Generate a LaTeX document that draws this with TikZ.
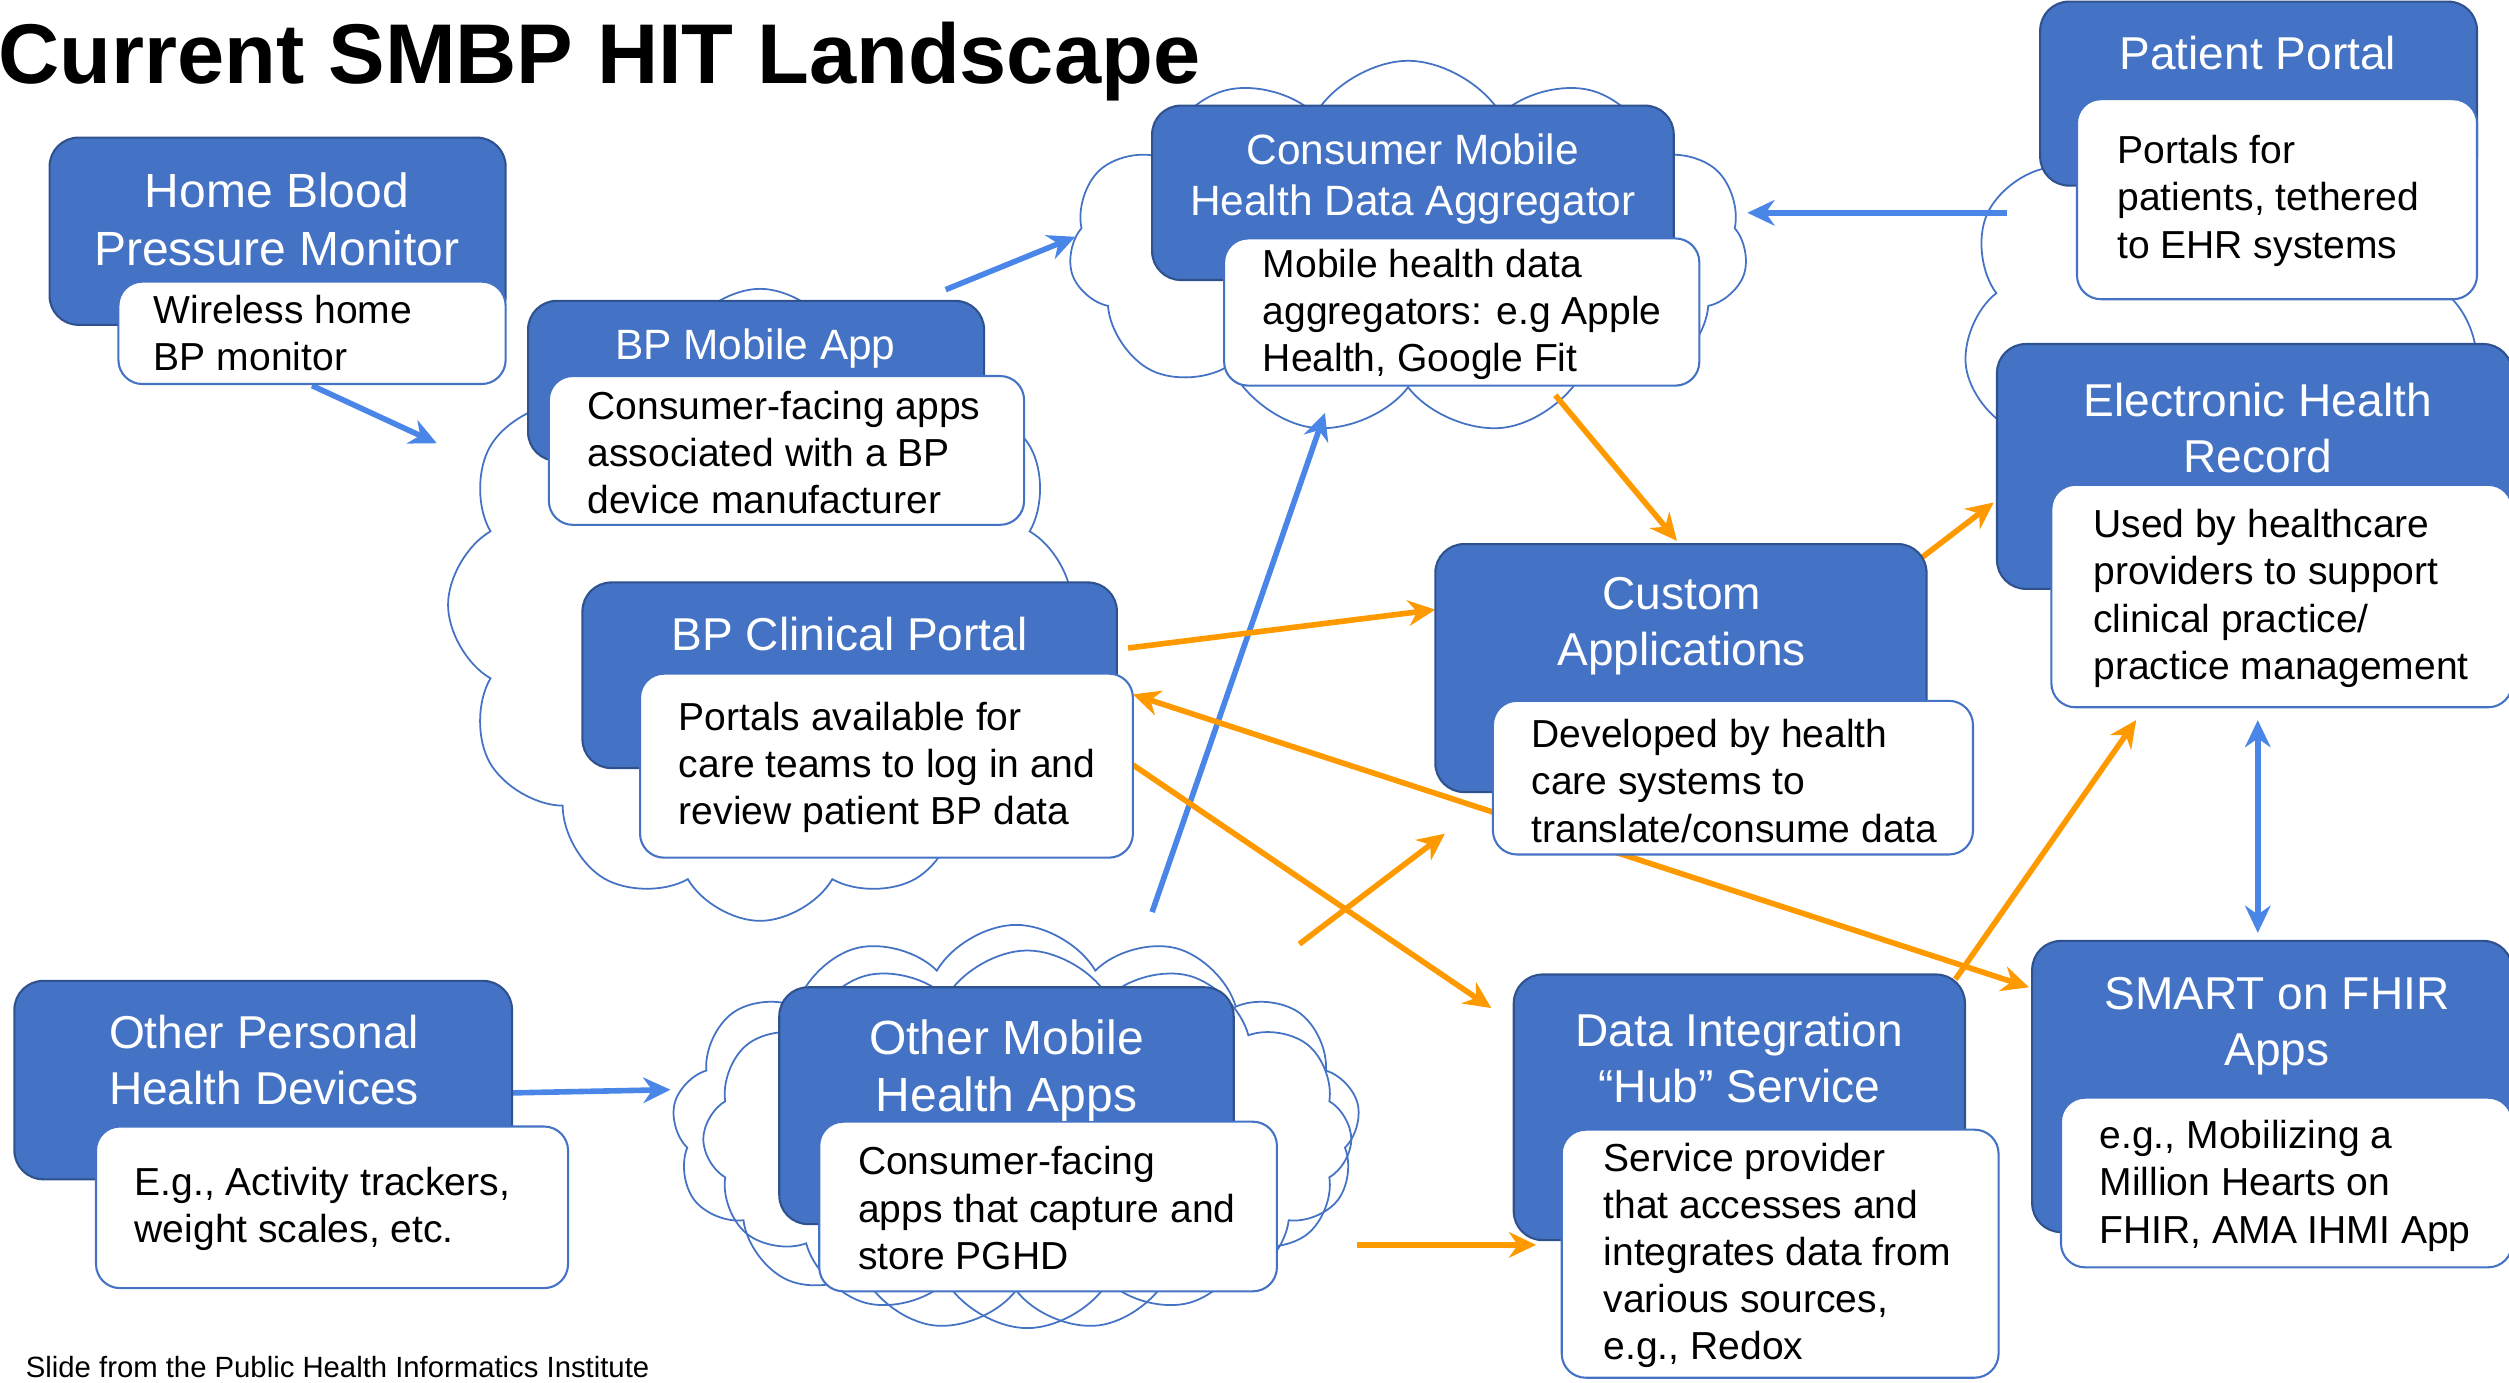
\documentclass[tikz,border=0pt]{standalone}
\usepackage{fontspec}
\setmainfont{Liberation Sans}
\usetikzlibrary{shapes.symbols,arrows.meta}
\definecolor{boxblue}{HTML}{4472C4}
\definecolor{boxedge}{HTML}{2F528F}
\definecolor{arrblue}{HTML}{4A86E8}
\definecolor{arrorange}{HTML}{FF9900}
\newcommand\hfntA{\fontsize{30pt}{36pt}\selectfont}
\newcommand\hfntB{\fontsize{28.8pt}{35pt}\selectfont}
\newcommand\hfntC{\fontsize{26.5pt}{32pt}\selectfont}
\newcommand\bfnt{\fontsize{24.4pt}{29.5pt}\selectfont}
\newcommand\cardbox[6]{\node[#1, minimum width={(#5-#3)*1pt}, minimum height={(#6-#4)*1pt}] (#2) at ({(#3+#5)/2},{(#4+#6)/2}) {};}
\tikzset{
 bluebox/.style={draw=boxedge, fill=boxblue, line width=1.3pt, rounded corners=18pt, inner sep=0pt, outer sep=0pt},
 whitebox/.style={draw=boxblue, fill=white, line width=1.3pt, rounded corners=15pt, inner sep=0pt, outer sep=0pt},
 titletext/.style={text=white, align=center, font=\hfntB, inner sep=0pt},
 bodytext/.style={text=black, align=left, font=\bfnt, inner sep=0pt, anchor=west},
 cloudshape/.style={cloud, cloud puff arc=120, draw=boxblue, fill=white, line width=1.1pt, inner sep=0pt},
 barrow/.style={draw=arrblue, line width=3.5pt, -{Stealth[length=17pt,width=16pt]}},
 barrowtwo/.style={draw=arrblue, line width=3.5pt, {Stealth[length=17pt,width=16pt]}-{Stealth[length=17pt,width=16pt]}},
 oarrow/.style={draw=arrorange, line width=3.5pt, -{Stealth[length=17pt,width=16pt]}},
 oarrowtwo/.style={draw=arrorange, line width=3.5pt, {Stealth[length=17pt,width=16pt]}-{Stealth[length=17pt,width=16pt]}},
}
\begin{document}
\begin{tikzpicture}[x=1pt,y=-1pt]
\useasboundingbox (0,0) rectangle (1568,864);
\clip (0,0) rectangle (1568,864);
% clouds
\node[cloudshape, cloud puffs=12, minimum width=390pt, minimum height=395pt] (cl1) at (475,378) {};
\node[cloudshape, cloud puffs=11, minimum width=424pt, minimum height=234pt] (cl2) at (880,155) {};
\node[cloudshape, cloud puffs=11, minimum width=322pt, minimum height=340pt] (cl3) at (1388,205) {};
\node[cloudshape, cloud puffs=13, minimum width=430pt, minimum height=254pt] (cl4) at (635,705) {};
\node[cloudshape, cloud puffs=12, fill=none, minimum width=405pt, minimum height=236pt] (cl5) at (642,712) {};
% connector end points
\coordinate (b1s) at (195,241); \coordinate (b1e) at (273,277);
\coordinate (b2s) at (591,181); \coordinate (b2e) at (672,148);
\coordinate (b3s) at (1254,133); \coordinate (b3e) at (1092,133);
\coordinate (b4s) at (720,570); \coordinate (b4e) at (828,258);
\coordinate (b5s) at (320,683); \coordinate (b5e) at (419,681);
\coordinate (b6s) at (1411,450); \coordinate (b6e) at (1411,583);
\coordinate (o1s) at (972,247); \coordinate (o1e) at (1048,338);
\coordinate (o2s) at (705,405); \coordinate (o2e) at (897,381);
\coordinate (o3s) at (1199,350); \coordinate (o3e) at (1246,314);
\coordinate (o4s) at (708,434); \coordinate (o4e) at (1268,617);
\coordinate (o5s) at (708,478); \coordinate (o5e) at (932,630);
\coordinate (o6s) at (812,590); \coordinate (o6e) at (903,521);
\coordinate (o7s) at (848,778); \coordinate (o7e) at (960,778);
\coordinate (o8s) at (1222,612); \coordinate (o8e) at (1335,450);
% arrows
\draw[barrow] (b1s) -- (b1e);
\draw[barrow] (b2s) -- (b2e);
\draw[barrow] (b3s) -- (b3e);
\draw[barrow] (b4s) -- (b4e);
\draw[barrow] (b5s) -- (b5e);
\draw[barrowtwo] (b6s) -- (b6e);
\draw[oarrow] (o1s) -- (o1e);
\draw[oarrow] (o2s) -- (o2e);
\draw[oarrow] (o3s) -- (o3e);
\draw[oarrowtwo] (o4s) -- (o4e);
\draw[oarrow] (o5s) -- (o5e);
\draw[oarrow] (o6s) -- (o6e);
\draw[oarrow] (o7s) -- (o7e);
\draw[oarrow] (o8s) -- (o8e);
% Home BP monitor
\cardbox{bluebox}{hbpB}{31}{86}{316}{203}
\cardbox{whitebox}{hbpW}{74}{176}{316}{240}
\node[titletext, font=\hfntA] (hbpT) at (173,137) {Home Blood\\Pressure Monitor};
\node[bodytext] (hbpX) at (96,208) {Wireless home\\BP monitor};
% BP Mobile App
\cardbox{bluebox}{bmaB}{330}{188}{615}{288}
\cardbox{whitebox}{bmaW}{343}{235}{640}{328}
\node[titletext, font=\hfntC] (bmaT) at (472,218) {BP Mobile App};
\node[bodytext] (bmaX) at (367,283) {Consumer-facing apps\\associated with a BP\\device manufacturer};
% BP Clinical Portal
\cardbox{bluebox}{bcpB}{364}{364}{698}{480}
\cardbox{whitebox}{bcpW}{400}{421}{708}{536}
\node[titletext] (bcpT) at (531,396) {BP Clinical Portal};
\node[bodytext] (bcpX) at (424,479.5) {Portals available for\\care teams to log in and\\review patient BP data};
% Consumer Mobile Health Data Aggregator
\cardbox{bluebox}{cmaB}{720}{66}{1046}{175}
\cardbox{whitebox}{cmaW}{765}{149}{1062}{241}
\node[titletext, font=\hfntC] (cmaT) at (883,112) {Consumer Mobile\\Health Data Aggregator};
\node[bodytext] (cmaX) at (789,196.5) {Mobile health data\\aggregators: e.g Apple\\Health, Google Fit};
% Patient Portal
\cardbox{bluebox}{ppB}{1275}{1}{1548}{116}
\cardbox{whitebox}{ppW}{1298}{62}{1548}{187}
\node[titletext] (ppT) at (1411,33) {Patient Portal};
\node[bodytext] (ppX) at (1323,125.5) {Portals for\\patients, tethered\\to EHR systems};
% Electronic Health Record
\cardbox{bluebox}{ehrB}{1248}{215}{1570}{368}
\cardbox{whitebox}{ehrW}{1282}{303}{1570}{442}
\node[titletext] (ehrT) at (1411,267.5) {Electronic Health\\Record};
\node[bodytext] (ehrX) at (1308,374) {Used by healthcare\\providers to support\\clinical practice/\\practice management};
% Custom Applications
\cardbox{bluebox}{caB}{897}{340}{1204}{495}
\cardbox{whitebox}{caW}{933}{438}{1233}{534}
\node[titletext] (caT) at (1051,391.5) {Custom\\Applications};
\node[bodytext] (caX) at (957,488) {Developed by health\\care systems to\\translate/consume data};
% Other Personal Health Devices
\cardbox{bluebox}{ophB}{9}{613}{320}{737}
\cardbox{whitebox}{ophW}{60}{704}{355}{805}
\node[titletext] (ophT) at (165,662.5) {Other Personal\\Health Devices};
\node[bodytext] (ophX) at (84,755.5) {E.g., Activity trackers,\\weight scales, etc.};
% Other Mobile Health Apps
\cardbox{bluebox}{omaB}{487}{617}{771}{765}
\cardbox{whitebox}{omaW}{512}{701}{798}{807}
\node[titletext, font=\hfntA] (omaT) at (629,669) {Other Mobile\\Health Apps};
\node[bodytext] (omaX) at (536,755) {Consumer-facing\\apps that capture and\\store PGHD};
% Data Integration Hub Service
\cardbox{bluebox}{dihB}{946}{609}{1228}{775}
\cardbox{whitebox}{dihW}{976}{706}{1249}{861}
\node[titletext] (dihT) at (1087,661) {Data Integration\\“Hub” Service};
\node[bodytext] (dihX) at (1002,784.5) {Service provider\\that accesses and\\integrates data from\\various sources,\\e.g., Redox};
% SMART on FHIR Apps
\cardbox{bluebox}{sofB}{1270}{588}{1570}{770}
\cardbox{whitebox}{sofW}{1288}{686}{1570}{792}
\node[titletext] (sofT) at (1423,641.5) {SMART on FHIR\\Apps};
\node[bodytext] (sofX) at (1312,741) {e.g., Mobilizing a\\Million Hearts on\\FHIR, AMA IHMI App};
% title and footer
\node[anchor=base west, inner sep=0pt, font=\fontsize{53pt}{60pt}\selectfont\bfseries] (title) at (-1,52) {Current SMBP HIT Landscape};
\node[anchor=base west, inner sep=0pt, font=\fontsize{18.3pt}{21pt}\selectfont] (footer) at (16,861) {Slide from the Public Health Informatics Institute};
\end{tikzpicture}
\end{document}
